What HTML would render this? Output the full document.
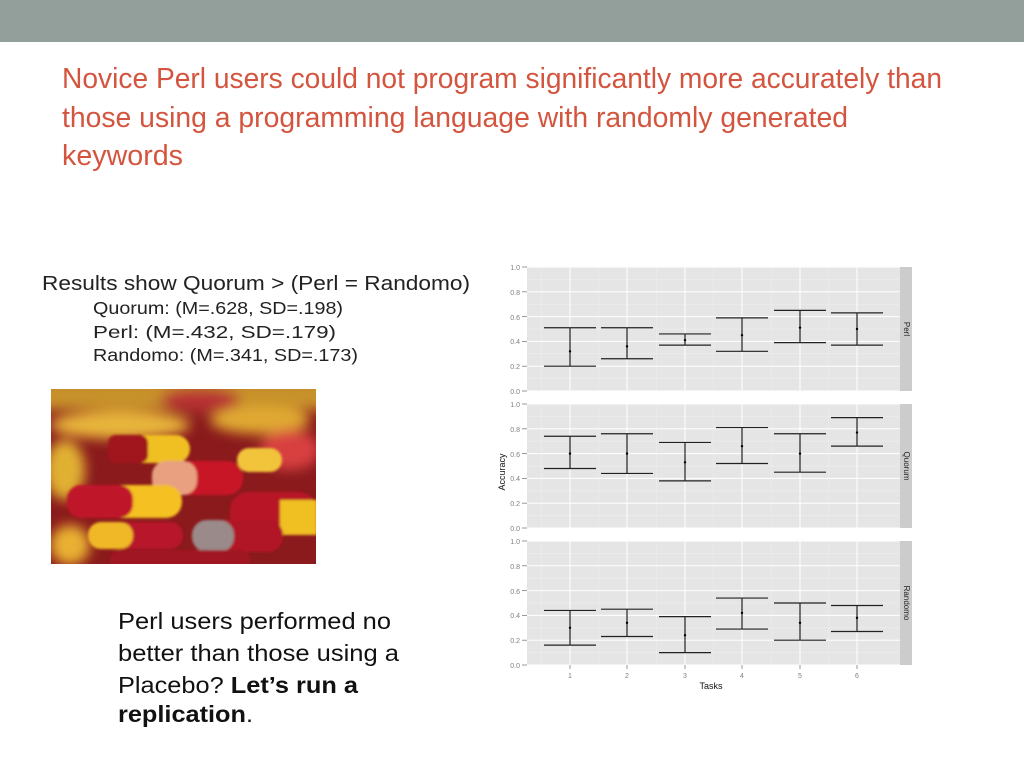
<!DOCTYPE html>
<html><head><meta charset="utf-8"><style>
body{margin:0;width:1024px;height:768px;overflow:hidden;background:#fff;font-family:"Liberation Sans",sans-serif}
</style></head><body>
<svg width="1024" height="768" viewBox="0 0 1024 768" xmlns="http://www.w3.org/2000/svg" font-family="Liberation Sans, sans-serif">
<defs>
<filter id="bl" x="-20%" y="-20%" width="140%" height="140%"><feGaussianBlur stdDeviation="6"/></filter>
<filter id="bl2"><feGaussianBlur stdDeviation="1.2"/></filter>
<clipPath id="pc"><rect x="51" y="389" width="265" height="175"/></clipPath>
</defs>
<rect x="0" y="0" width="1024" height="42" fill="#939f9a"/>
<g fill="#d4553f" font-size="29">
<text x="62" y="88" textLength="880" lengthAdjust="spacingAndGlyphs">Novice Perl users could not program significantly more accurately than</text>
<text x="62" y="127" textLength="786" lengthAdjust="spacingAndGlyphs">those using a programming language with randomly generated</text>
<text x="62" y="165" textLength="121" lengthAdjust="spacingAndGlyphs">keywords</text>
</g>
<g fill="#222">
<text x="42" y="290" font-size="20" textLength="428" lengthAdjust="spacingAndGlyphs">Results show Quorum &gt; (Perl = Randomo)</text>
<text x="93" y="314" font-size="17.5" textLength="250" lengthAdjust="spacingAndGlyphs">Quorum: (M=.628, SD=.198)</text>
<text x="93" y="338" font-size="17.5" textLength="243" lengthAdjust="spacingAndGlyphs">Perl: (M=.432, SD=.179)</text>
<text x="93" y="361" font-size="17.5" textLength="265" lengthAdjust="spacingAndGlyphs">Randomo: (M=.341, SD=.173)</text>
</g>
<g fill="#111" font-size="23">
<text x="118" y="629" textLength="273" lengthAdjust="spacingAndGlyphs">Perl users performed no</text>
<text x="118" y="661" textLength="281" lengthAdjust="spacingAndGlyphs">better than those using a</text>
<text x="118" y="693" textLength="240" lengthAdjust="spacingAndGlyphs">Placebo? <tspan font-weight="bold">Let’s run a</tspan></text>
<text x="118" y="722" textLength="135" lengthAdjust="spacingAndGlyphs"><tspan font-weight="bold">replication</tspan>.</text>
</g>
<g clip-path="url(#pc)">
<rect x="51" y="389" width="265" height="175" fill="#8a1a1c"/>
<g filter="url(#bl)">
<rect x="40" y="380" width="290" height="30" fill="#c8922a"/>
<ellipse cx="120" cy="425" rx="70" ry="14" fill="#e8b53a"/>
<ellipse cx="260" cy="420" rx="50" ry="14" fill="#e0a830"/>
<ellipse cx="200" cy="400" rx="40" ry="12" fill="#b83030"/>
<ellipse cx="290" cy="450" rx="30" ry="20" fill="#d84040"/>
<ellipse cx="65" cy="470" rx="20" ry="30" fill="#e0b030"/>
<ellipse cx="70" cy="545" rx="20" ry="20" fill="#e8b030"/>
</g>
<g filter="url(#bl2)">
<rect x="108" y="435" width="82" height="28" rx="14" fill="#f0c020"/><rect x="108" y="435" width="40" height="28" rx="8" fill="#a0141c"/>
<rect x="237" y="448" width="45" height="24" rx="12" fill="#f2c43a"/>
<rect x="230" y="492" width="87" height="43" rx="18" fill="#b81828"/><rect x="280" y="500" width="37" height="35" fill="#f0c020"/>
<rect x="152" y="461" width="91" height="34" rx="16" fill="#c81828"/><rect x="152" y="461" width="45" height="34" rx="14" fill="#e8a080"/>
<rect x="67" y="485" width="115" height="33" rx="16" fill="#f4c020"/><rect x="67" y="485" width="66" height="33" rx="14" fill="#c0142a"/>
<rect x="88" y="522" width="95" height="27" rx="13" fill="#b8142a"/><rect x="88" y="522" width="45" height="27" rx="13" fill="#f0b828"/>
<rect x="192" y="520" width="91" height="32" rx="15" fill="#b01828"/><rect x="192" y="520" width="42" height="32" rx="15" fill="#9a8a8a"/>
<rect x="110" y="550" width="140" height="20" rx="10" fill="#a01824"/>
</g>
</g>
<g id="chart"></g>
<g font-size="7" fill="#7f7f7f" text-anchor="end">
<text x="520" y="270">1.0</text><text x="520" y="295">0.8</text><text x="520" y="320">0.6</text><text x="520" y="344">0.4</text><text x="520" y="369">0.2</text><text x="520" y="394">0.0</text>
<text x="520" y="407">1.0</text><text x="520" y="432">0.8</text><text x="520" y="457">0.6</text><text x="520" y="481">0.4</text><text x="520" y="506">0.2</text><text x="520" y="531">0.0</text>
<text x="520" y="544">1.0</text><text x="520" y="569">0.8</text><text x="520" y="594">0.6</text><text x="520" y="618">0.4</text><text x="520" y="643">0.2</text><text x="520" y="668">0.0</text>
</g>
<g font-size="7" fill="#7f7f7f" text-anchor="middle">
<text x="570" y="678">1</text><text x="627" y="678">2</text><text x="685" y="678">3</text><text x="742" y="678">4</text><text x="800" y="678">5</text><text x="857" y="678">6</text>
</g>
<text x="711" y="689" font-size="9" text-anchor="middle" fill="#111">Tasks</text>
<text transform="translate(505,472) rotate(-90)" font-size="9" text-anchor="middle" fill="#111">Accuracy</text>
<g font-size="8" fill="#222" text-anchor="middle">
<text transform="translate(904,329) rotate(90)">Perl</text>
<text transform="translate(904,466) rotate(90)">Quorum</text>
<text transform="translate(904,603) rotate(90)">Randomo</text>
</g>
</svg>
<script>
(function(){
var ns="http://www.w3.org/2000/svg",g=document.getElementById("chart");
function el(t,a){var e=document.createElementNS(ns,t);for(var k in a)e.setAttribute(k,a[k]);g.appendChild(e);return e;}
var tops=[267,404,541],H=124,x0=527,x1=900,xs=[570,627,685,742,800,857];
var data=[
[[.51,.32,.20],[.51,.36,.26],[.46,.41,.37],[.59,.45,.32],[.65,.51,.39],[.63,.50,.37]],
[[.74,.60,.48],[.76,.60,.44],[.69,.53,.38],[.81,.66,.52],[.76,.60,.45],[.89,.77,.66]],
[[.44,.30,.16],[.45,.34,.23],[.39,.24,.10],[.54,.42,.29],[.50,.34,.20],[.48,.38,.27]]];
tops.forEach(function(t,p){
 el("rect",{x:x0,y:t,width:x1-x0,height:H,fill:"#e5e5e5"});
 el("rect",{x:x1,y:t,width:12,height:H,fill:"#cccccc"});
 for(var i=0;i<=10;i++){var y=t+H-i*H/10;
  el("line",{x1:x0,x2:x1,y1:y,y2:y,stroke:i%2?"#f0f0f0":"#fff","stroke-width":i%2?0.5:1});
  if(i%2==0) el("line",{x1:522,x2:527,y1:y,y2:y,stroke:"#7f7f7f","stroke-width":0.8});}
 xs.forEach(function(x,j){
  el("line",{x1:x-28.75,x2:x-28.75,y1:t,y2:t+H,stroke:"#f0f0f0","stroke-width":0.5});
  el("line",{x1:x,x2:x,y1:t,y2:t+H,stroke:"#fff","stroke-width":1});
  if(p==2) el("line",{x1:x,x2:x,y1:t+H,y2:t+H+4,stroke:"#7f7f7f","stroke-width":0.8});
  var d=data[p][j],yh=t+H*(1-d[0]),ym=t+H*(1-d[1]),yl=t+H*(1-d[2]);
  el("line",{x1:x,x2:x,y1:yh,y2:yl,stroke:"#222","stroke-width":1.2});
  el("line",{x1:x-26,x2:x+26,y1:yh,y2:yh,stroke:"#222","stroke-width":1.2});
  el("line",{x1:x-26,x2:x+26,y1:yl,y2:yl,stroke:"#222","stroke-width":1.2});
  el("circle",{cx:x,cy:ym,r:1.2,fill:"#000"});
 });
});
})();
</script>
</body></html>
